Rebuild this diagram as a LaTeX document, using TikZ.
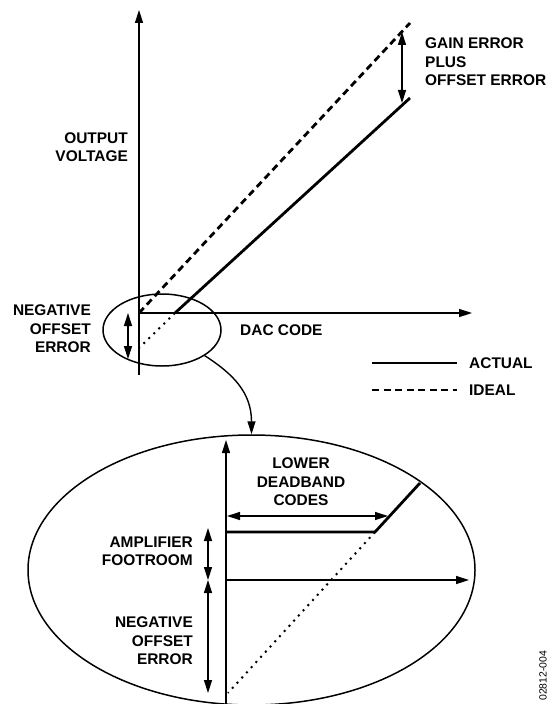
\documentclass[tikz,border=0pt]{standalone}
\usepackage{fontspec}
\setmainfont{Liberation Sans}
\usetikzlibrary{arrows.meta, calc, positioning, shapes.geometric}

\begin{document}
\begin{tikzpicture}[x=1bp, y=-1bp,
    lbl/.style={font=\fontsize{15.5}{18.5}\selectfont\bfseries, inner sep=0pt},
    axis/.style={line width=1.5pt, -{Triangle[length=13bp,width=8bp]}},
    twoway/.style={line width=1.3pt, {Triangle[length=13bp,width=8bp]}-{Triangle[length=13bp,width=8bp]}},
    actual/.style={line width=2.8pt},
    ideal/.style={line width=2.8pt, dash pattern=on 7bp off 4.5bp},
    extension/.style={line width=2pt, dash pattern=on 2bp off 5bp},
    loupe/.style={draw, ellipse, line width=1.5pt, inner sep=0pt}]
    \useasboundingbox (0,0) rectangle (553,704);

    % upper graph
    \coordinate (o) at (139,313);
    \coordinate (ytop) at (139,10);
    \coordinate (ybot) at (139,375);
    \coordinate (xend) at (472,313);
    \coordinate (knee) at (175,313);
    \coordinate (ideal end) at (410,23);
    \coordinate (actual end) at (410,98);
    \coordinate (dot end) at (139,348);
    \draw[axis] (ybot) -- (ytop);
    \draw[axis] (o) -- (xend);
    \draw[ideal] (o) -- (ideal end);
    \draw[actual] (knee) -- (actual end);
    \draw[extension] (knee) -- (dot end);

    \coordinate (g1) at (402,32);
    \coordinate (g2) at (402,103);
    \draw[twoway] (g1) -- (g2);
    \coordinate (n1) at (128,313);
    \coordinate (n2) at (128,359);
    \draw[twoway] (n1) -- (n2);

    \node[lbl, align=left, anchor=west] (gain) at (425,62) {GAIN ERROR\\PLUS\\OFFSET ERROR};
    \node[lbl, align=right, anchor=east] (vout) at (128,147) {OUTPUT\\VOLTAGE};
    \node[lbl, align=right, anchor=east] (negoff) at (91,329) {NEGATIVE\\OFFSET\\ERROR};
    \node[lbl, anchor=west] (dac) at (240,330) {DAC CODE};

    % legend
    \coordinate (la1) at (372,363);
    \coordinate (la2) at (457,363);
    \coordinate (li1) at (372,390);
    \coordinate (li2) at (457,390);
    \draw[actual] (la1) -- (la2);
    \draw[ideal] (li1) -- (li2);
    \node[lbl, anchor=west] (actlbl) at (469,363) {ACTUAL};
    \node[lbl, anchor=west] (idllbl) at (469,390) {IDEAL};

    % magnifier
    \node[loupe, minimum width=118bp, minimum height=72bp] (src) at (162,330) {};
    \node[loupe, minimum width=447bp, minimum height=270bp] (dst) at (251.5,570) {};
    \draw[line width=1.4pt, -{Triangle[length=13bp,width=8bp]}]
        (src.-31) .. controls +(28,18) and +(0,-42) .. (dst.north);

    % lower graph
    \coordinate (zo) at (226,580);
    \coordinate (zytop) at (226,440);
    \coordinate (zybot) at (226,706);
    \coordinate (zxend) at (469,580);
    \coordinate (zfloor) at (226,532);
    \coordinate (zknee) at (375,532);
    \coordinate (zend) at (420,483);
    \coordinate (zdot) at (228,693);
    \draw[axis] (zybot) -- (zytop);
    \draw[axis] (zo) -- (zxend);
    \draw[actual] (zfloor) -- (zknee) -- (zend);
    \draw[extension] (zknee) -- (zdot);

    \coordinate (d1) at (227,516);
    \coordinate (d2) at (388,516);
    \draw[twoway] (d1) -- (d2);
    \coordinate (f1) at (208,528);
    \coordinate (f2) at (208,580);
    \coordinate (f3) at (208,693);
    \draw[twoway] (f1) -- (f2);
    \draw[twoway] (f2) -- (f3);

    \node[lbl, align=center] (dead) at (301,482) {LOWER\\DEADBAND\\CODES};
    \node[lbl, align=right, anchor=east] (foot) at (193,551.5) {AMPLIFIER\\FOOTROOM};
    \node[lbl, align=right, anchor=east] (zneg) at (193,641) {NEGATIVE\\OFFSET\\ERROR};

    \node[rotate=90, anchor=west, font=\fontsize{10.5}{12}\selectfont, inner sep=0pt] (fig) at (543,701) {02812-004};
\end{tikzpicture}
\end{document}
